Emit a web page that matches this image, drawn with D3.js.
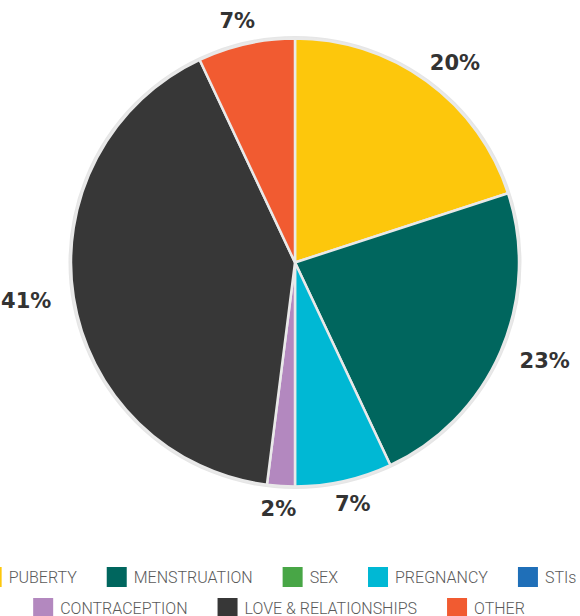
<!DOCTYPE html>
<html>
<head>
<meta charset="utf-8">
<script src="https://cdn.jsdelivr.net/npm/d3@7"></script>
<style>
  body { margin: 0; background: #fff; }
  svg { display: block; }
</style>
</head>
<body>
<div id="graph"></div>
<script>
// topics and shares (percent)
var topics = ["PUBERTY", "MENSTRUATION", "SEX", "PREGNANCY", "STIs", "CONTRACEPTION", "LOVE & RELATIONSHIPS", "OTHER"];
var shares = [20, 23, 0, 7, 0, 2, 41, 7];
var colors = ["#fdc70c", "#00665e", "#48a646", "#00b8d4", "#1f6fb8", "#b388bf", "#373737", "#f15b31"];

const width = 580, height = 616;
const cx = 295, cy = 262.5, radius = 224;

var data = topics.map(function(t, i) { return {topic: t, value: shares[i], color: colors[i]}; });

var svg = d3.select("#graph").append("svg")
    .attr("width", width)
    .attr("height", height);

var pie = d3.pie().sort(null).value(d => d.value);
var arc = d3.arc().innerRadius(0).outerRadius(radius);
var arcs = pie(data);

var g = svg.append("g").attr("transform", "translate(" + cx + "," + cy + ")");

// soft outer ring
g.append("circle")
    .attr("r", radius + 1)
    .attr("fill", "none")
    .attr("stroke", "#e6e6e6")
    .attr("stroke-width", 3);

g.selectAll("path")
    .data(arcs.filter(d => d.value > 0))
    .enter()
    .append("path")
    .attr("d", arc)
    .attr("fill", d => d.data.color)
    .attr("stroke", "#e9e9e9")
    .attr("stroke-width", 2.5)
    .attr("stroke-linejoin", "round");

// percentage labels
var labelR = radius + 23;
var labels = g.selectAll("text.pct")
    .data(arcs.filter(d => d.value > 0))
    .enter()
    .append("text")
    .attr("class", "pct")
    .attr("font-family", "DejaVu Sans")
    .attr("font-weight", "bold")
    .attr("font-size", 21)
    .attr("fill", "#333")
    .attr("text-anchor", "middle")
    .attr("dominant-baseline", "central")
    .text(d => d.data.value + "%");

labels.each(function(d) {
    var a = (d.startAngle + d.endAngle) / 2;
    var w = this.getComputedTextLength();
    var x = Math.sin(a) * labelR + Math.sin(a) * w / 2;
    var y = -Math.cos(a) * labelR;
    d3.select(this).attr("x", x).attr("y", y);
});

// legend
var legend = svg.append("g").attr("class", "legend");
var sq = 20, pad = 7, gap = 30, maxRow = 600, legendCx = 279;
var rowTops = [567, 598];

var items = legend.selectAll("g")
    .data(data)
    .enter()
    .append("g");

items.append("rect")
    .attr("width", sq)
    .attr("height", sq)
    .attr("fill", d => d.color);

items.append("text")
    .attr("x", sq + pad)
    .attr("y", sq / 2)
    .attr("dominant-baseline", "central")
    .attr("font-family", "Roboto")
    .attr("font-weight", 300)
    .attr("font-size", 16)
    .attr("fill", "#5a5a5a")
    .text(d => d.topic);

// wrap items into rows
var rows = [[]], rowW = [0];
items.each(function(d) {
    var w = sq + pad + d3.select(this).select("text").node().getComputedTextLength();
    var r = rows.length - 1;
    var add = rows[r].length ? gap + w : w;
    if (rowW[r] + add > maxRow) {
        rows.push([]); rowW.push(0); r++; add = w;
    }
    rows[r].push({node: this, w: w});
    rowW[r] += add;
});

rows.forEach(function(row, r) {
    var x = legendCx - rowW[r] / 2;
    row.forEach(function(it) {
        d3.select(it.node).attr("transform", "translate(" + x + "," + rowTops[r] + ")");
        x += it.w + gap;
    });
});
</script>
</body>
</html>
